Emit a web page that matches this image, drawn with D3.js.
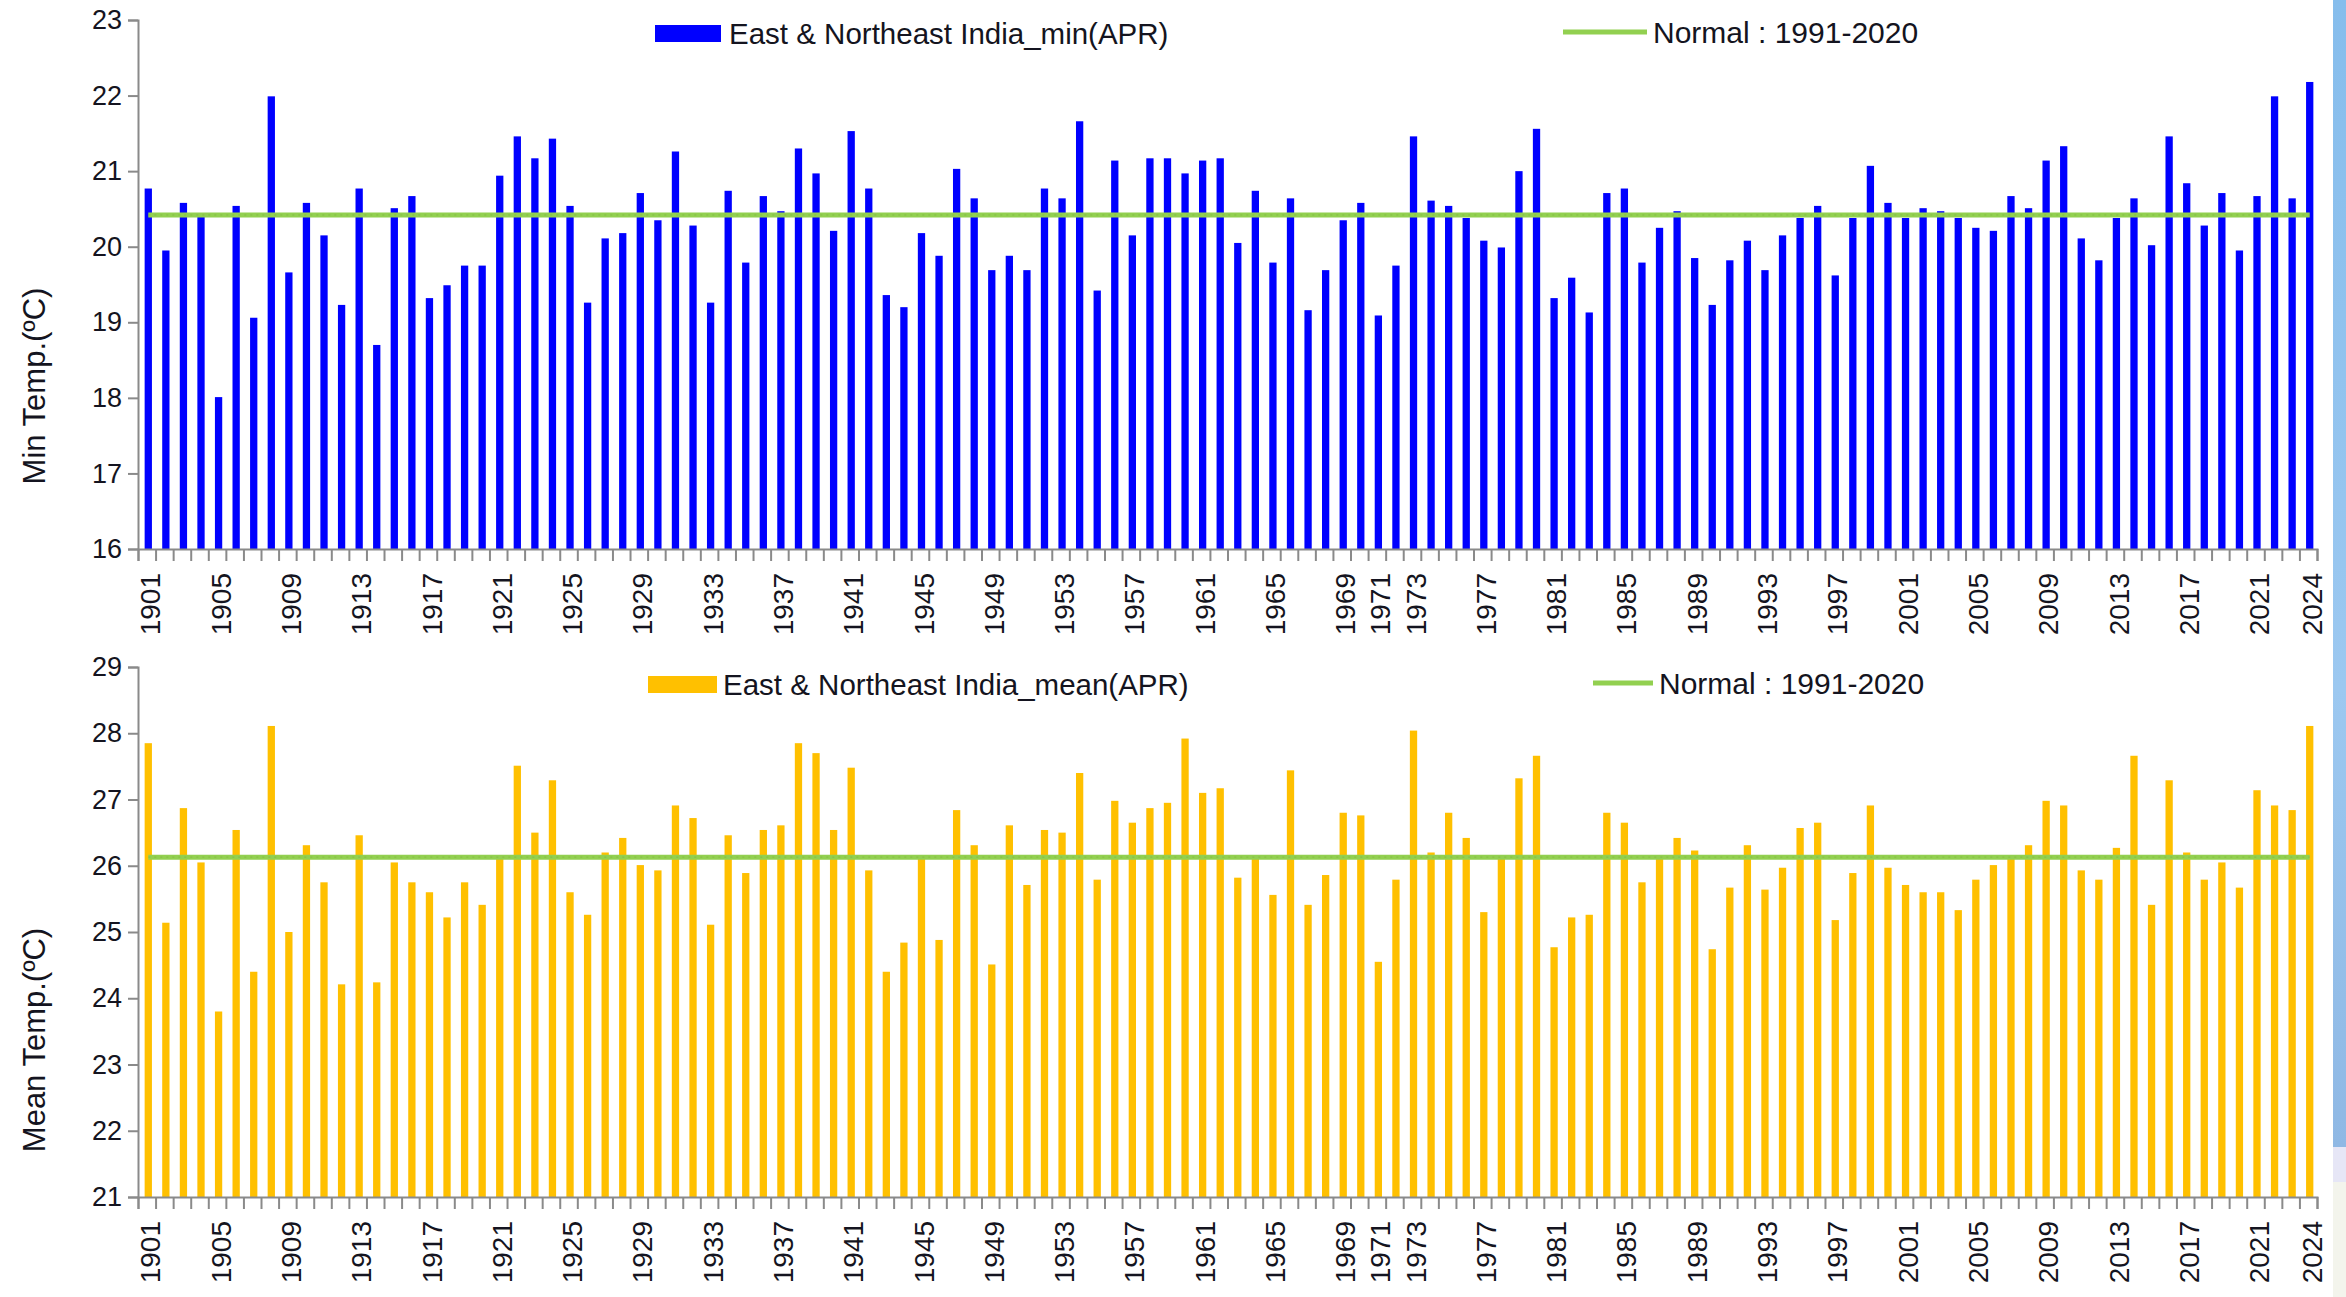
<!DOCTYPE html>
<html><head><meta charset="utf-8">
<script src="https://cdn.jsdelivr.net/npm/d3@7/dist/d3.min.js"></script>
<style>body{margin:0;background:#fff;overflow:hidden}text{font-family:"Liberation Sans",Arial,sans-serif;fill:#141420}</style>
</head><body><svg id="c" width="2346" height="1297"></svg>
<script>
// ---------- data ----------
const years = d3.range(1901, 2025);
const tickLabels = [1901,1905,1909,1913,1917,1921,1925,1929,1933,1937,1941,1945,1949,1953,1957,1961,1965,1969,1971,1973,1977,1981,1985,1989,1993,1997,2001,2005,2009,2013,2017,2021,2024];
const minTemp = [
 20.77,19.95,20.58,20.40,18.01,20.54,19.06,21.99,19.66,20.58,
 20.15,19.23,20.77,18.70,20.51,20.67,19.32,19.49,19.75,19.75,
 20.94,21.46,21.17,21.43,20.54,19.26,20.11,20.18,20.71,20.35,
 21.26,20.28,19.26,20.74,19.79,20.67,20.47,21.30,20.97,20.21,
 21.53,20.77,19.36,19.20,20.18,19.88,21.03,20.64,19.69,19.88,
 19.69,20.77,20.64,21.66,19.42,21.14,20.15,21.17,21.17,20.97,
 21.14,21.17,20.05,20.74,19.79,20.64,19.16,19.69,20.35,20.58,
 19.09,19.75,21.46,20.61,20.54,20.38,20.08,19.99,21.00,21.56,
 19.32,19.59,19.13,20.71,20.77,19.79,20.25,20.47,19.85,19.23,
 19.82,20.08,19.69,20.15,20.38,20.54,19.62,20.38,21.07,20.58,
 20.38,20.51,20.47,20.38,20.25,20.21,20.67,20.51,21.14,21.33,
 20.11,19.82,20.38,20.64,20.02,21.46,20.84,20.28,20.71,19.95,
 20.67,21.99,20.64,22.18];
const meanTemp = [
 27.85,25.14,26.87,26.05,23.80,26.54,24.40,28.11,25.00,26.31,
 25.75,24.21,26.46,24.24,26.05,25.75,25.60,25.22,25.75,25.41,
 26.12,27.51,26.50,27.29,25.60,25.26,26.20,26.42,26.01,25.93,
 26.91,26.72,25.11,26.46,25.89,26.54,26.61,27.85,27.70,26.54,
 27.48,25.93,24.40,24.84,26.12,24.88,26.84,26.31,24.51,26.61,
 25.71,26.54,26.50,27.40,25.79,26.98,26.65,26.87,26.95,27.92,
 27.10,27.17,25.82,26.12,25.56,27.44,25.41,25.86,26.80,26.76,
 24.55,25.79,28.04,26.20,26.80,26.42,25.30,26.12,27.32,27.66,
 24.77,25.22,25.26,26.80,26.65,25.75,26.12,26.42,26.23,24.74,
 25.67,26.31,25.64,25.97,26.57,26.65,25.18,25.89,26.91,25.97,
 25.71,25.60,25.60,25.33,25.79,26.01,26.12,26.31,26.98,26.91,
 25.93,25.79,26.27,27.66,25.41,27.29,26.20,25.79,26.05,25.67,
 27.14,26.91,26.84,28.11];
const normalMin = 20.42;
const normalMean = 26.13;
const minTicks = [16,17,18,19,20,21,22,23];
const meanTicks = [21,22,23,24,25,26,27,28,29];
const minLabel = "East & Northeast India_min(APR)";
const meanLabel = "East & Northeast India_mean(APR)";
const normalLabel = "Normal : 1991-2020";

// ---------- drawing ----------
const svg = d3.select("#c");
svg.append("rect").attr("width",2346).attr("height",1297).attr("fill","#fff");

// right-edge backdrop strip
const defs = svg.append("defs");
const g1 = defs.append("linearGradient").attr("id","strip").attr("x1",0).attr("y1",0).attr("x2",0).attr("y2",1);
g1.append("stop").attr("offset","0%").attr("stop-color","#86bdec");
g1.append("stop").attr("offset","60%").attr("stop-color","#9cc8f0");
g1.append("stop").attr("offset","100%").attr("stop-color","#8fb8e4");
svg.append("rect").attr("x",2333).attr("y",0).attr("width",13).attr("height",1147).attr("fill","url(#strip)");
svg.append("rect").attr("x",2333).attr("y",1147).attr("width",13).attr("height",35).attr("fill","#e6e6f6");
svg.append("rect").attr("x",2333).attr("y",1182).attr("width",13).attr("height",115).attr("fill","#f3f4ec");

const left = 138, right = 2317;

function panel(cfg){
  const g = svg.append("g");
  const x = d3.scaleBand().domain(years).range([left,right]).paddingInner(0.585).paddingOuter(0.2925);
  const y = d3.scaleLinear().domain(cfg.domain).range([cfg.bottom,cfg.top]);
  const bw = x.bandwidth();

  // bars
  g.append("g").selectAll("rect").data(cfg.values).join("rect")
    .attr("x",(d,i)=>x(years[i])+1.5)
    .attr("width",bw)
    .attr("y",d=>y(d))
    .attr("height",d=>y(cfg.domain[0])-y(d))
    .attr("fill",cfg.color);

  // normal line
  const x0 = x(years[0])+1.5+bw/2, x1 = x(years[years.length-1])+1.5+bw/2;
  g.append("line").attr("x1",x0).attr("x2",x1).attr("y1",y(cfg.normal)).attr("y2",y(cfg.normal))
    .attr("stroke","#92d050").attr("stroke-width",5);
  g.append("line").attr("x1",x0).attr("x2",x1).attr("y1",y(cfg.normal)).attr("y2",y(cfg.normal))
    .attr("stroke","#7fb13e").attr("stroke-width",1).attr("stroke-dasharray","2,4").attr("opacity",0.6);

  // y axis
  const ya = g.append("g").attr("transform",`translate(${left},0)`)
    .call(d3.axisLeft(y).tickValues(cfg.ticks).tickSize(10).tickPadding(6).tickFormat(d3.format("d")));
  ya.select(".domain").attr("stroke","#8a8a8a").attr("stroke-width",2);
  ya.selectAll(".tick line").attr("stroke","#8a8a8a").attr("stroke-width",2);
  ya.selectAll("text").style("font-size","27px").attr("fill","#141420");

  // x boundary ticks
  const xl = d3.scaleLinear().domain([0,years.length]).range([left,right]);
  const xa = g.append("g").attr("transform",`translate(0,${cfg.bottom})`)
    .call(d3.axisBottom(xl).tickValues(d3.range(0,years.length+1)).tickSize(12).tickFormat(""));
  xa.select(".domain").attr("stroke","#8a8a8a").attr("stroke-width",2);
  xa.selectAll(".tick line").attr("stroke","#8a8a8a").attr("stroke-width",2);

  // x labels
  const lab = g.append("g").attr("transform",`translate(0,${cfg.bottom})`)
    .call(d3.axisBottom(x).tickValues(tickLabels).tickSize(0).tickPadding(0));
  lab.select(".domain").remove();
  lab.selectAll("text")
    .style("font-size","28px").attr("fill","#141420")
    .attr("transform","rotate(-90)")
    .attr("text-anchor","end")
    .attr("x",-24).attr("y",0).attr("dy","0.36em")
    .attr("dx",0);
  lab.selectAll(".tick").attr("transform",d=>`translate(${x(d)+1.5+bw/2+2},0)`);

  // y title
  g.append("text").attr("transform",`translate(34,${cfg.titleY}) rotate(-90)`)
    .attr("text-anchor","middle").attr("dy","0.36em")
    .style("font-size","31px").text(cfg.title);

  // legend
  const L = cfg.legend;
  g.append("rect").attr("x",L.rx).attr("y",L.ry).attr("width",L.rw).attr("height",17).attr("fill",cfg.color);
  g.append("text").attr("x",L.tx).attr("y",L.ry+8.5).attr("dy","0.36em").style("font-size","29.5px").text(cfg.label);
  g.append("line").attr("x1",L.lx).attr("x2",L.lx+L.lw).attr("y1",L.ly).attr("y2",L.ly)
    .attr("stroke","#92d050").attr("stroke-width",5);
  g.append("text").attr("x",L.ntx).attr("y",L.ly).attr("dy","0.36em").style("font-size","30px").text(normalLabel);
}

panel({domain:[16,23], top:20, bottom:549, values:minTemp, normal:normalMin, ticks:minTicks,
  color:"#0000ff", title:"Min Temp.(ºC)", titleY:386, label:minLabel,
  legend:{rx:655, ry:25, rw:66, tx:729, lx:1563, lw:84, ly:32, ntx:1653}});
panel({domain:[21,29], top:667, bottom:1197, values:meanTemp, normal:normalMean, ticks:meanTicks,
  color:"#ffc000", title:"Mean Temp.(ºC)", titleY:1040, label:meanLabel,
  legend:{rx:648, ry:676, rw:69, tx:723, lx:1593, lw:60, ly:683, ntx:1659}});
</script></body></html>
